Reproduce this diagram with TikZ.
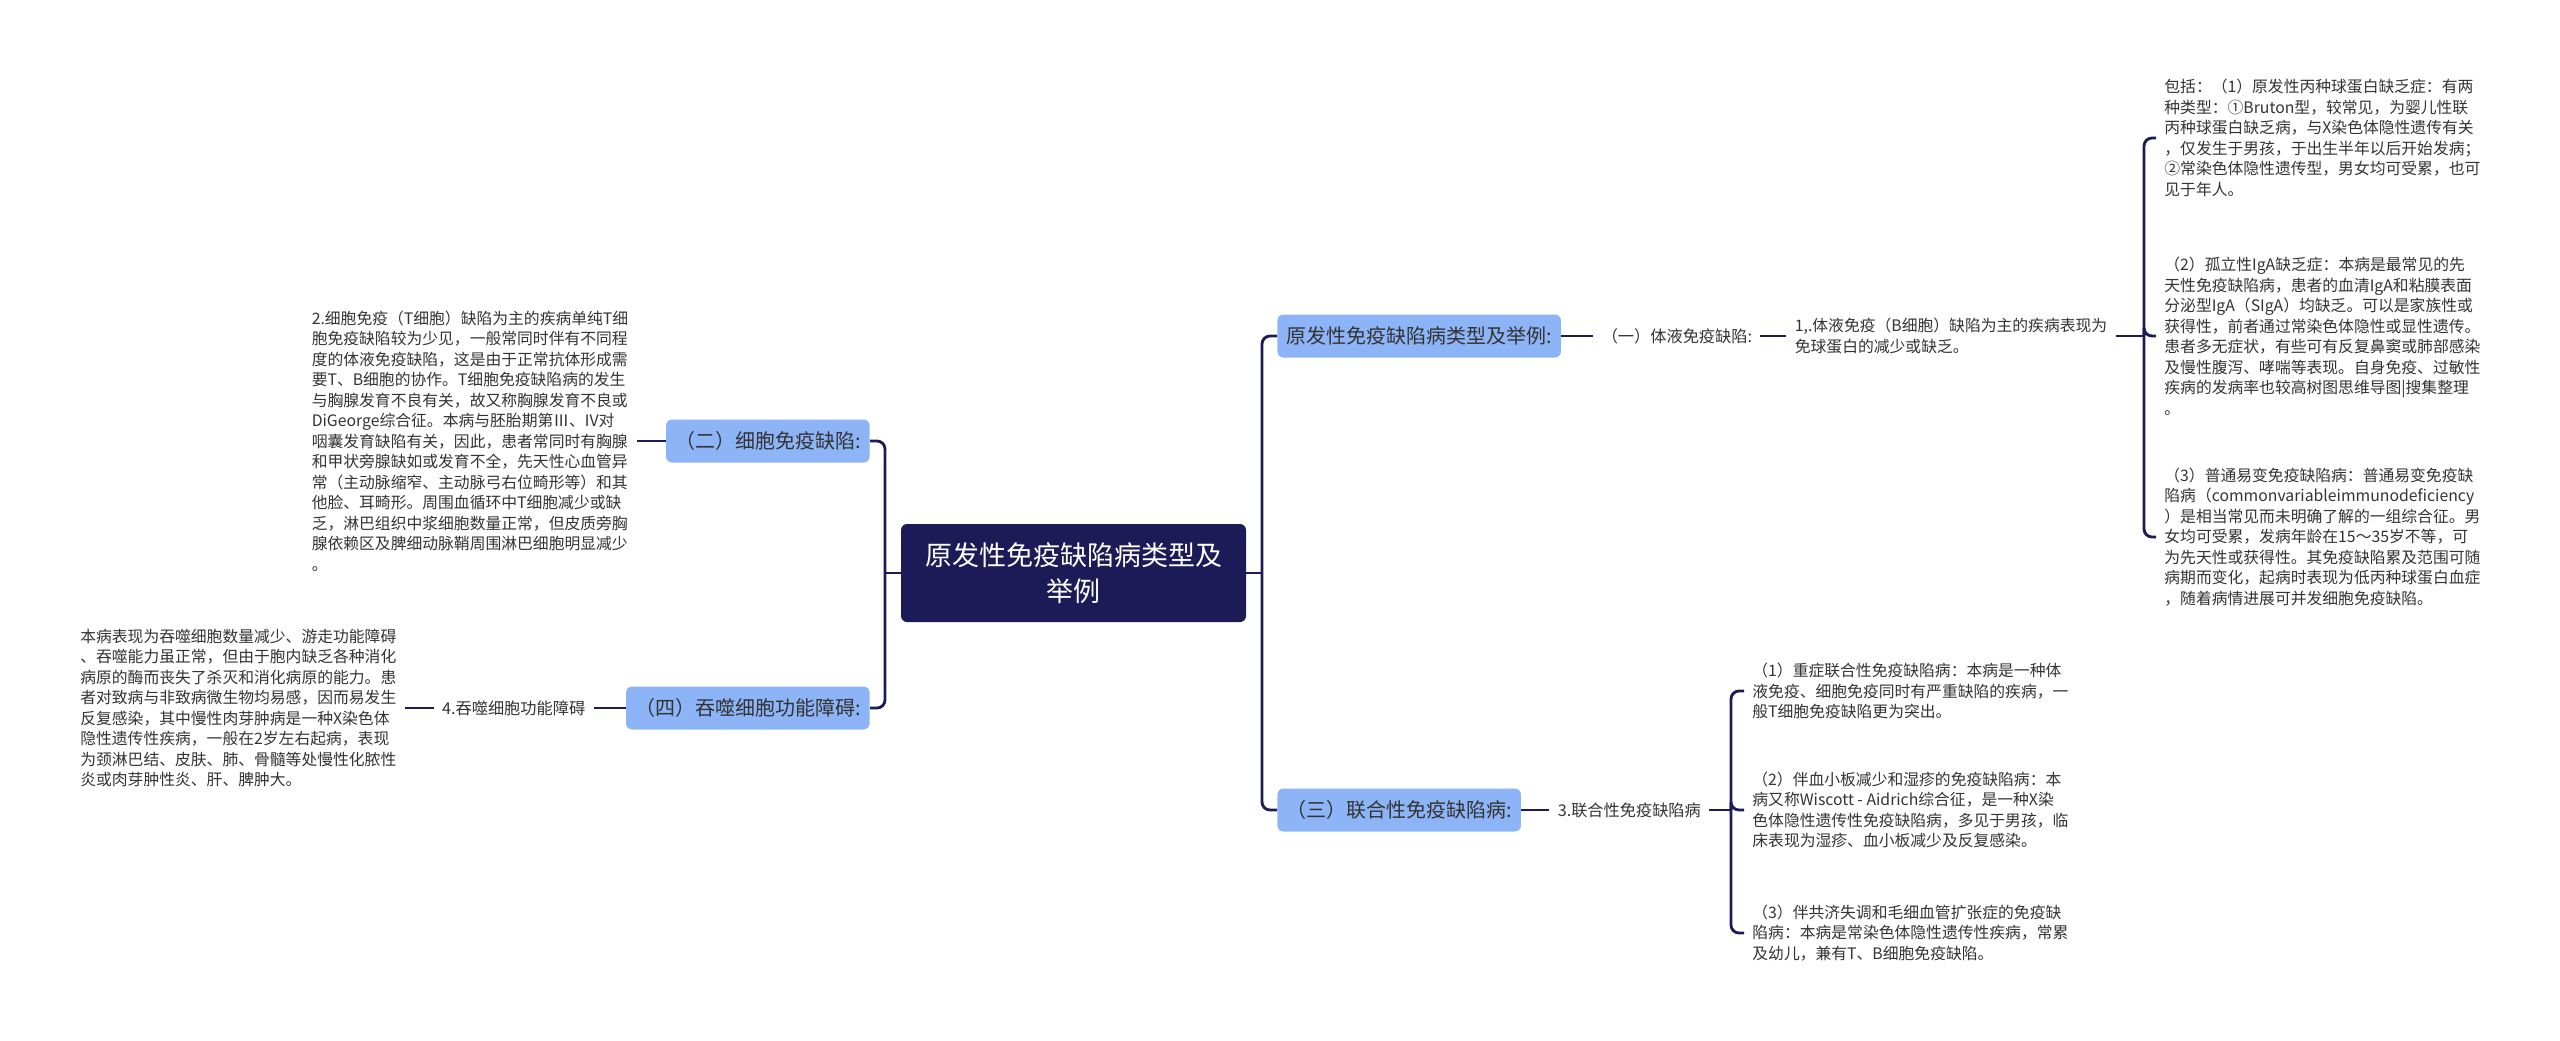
\documentclass[tikz,border=0pt]{standalone}
\usepackage{fontspec}
\setmainfont{Noto Sans CJK SC}
\usetikzlibrary{positioning}
\definecolor{navy}{HTML}{1C1B57}
\definecolor{skyb}{HTML}{8CB4F6}
\definecolor{txtg}{HTML}{333333}

\begin{document}
\begin{tikzpicture}[x=0.5pt, y=-0.5pt,
      cen/.style={fill=navy, text=white, rounded corners=3pt, minimum width=172.5pt,
                  minimum height=49pt, align=center, font=\fontsize{13.5}{18}\selectfont},
      br/.style={fill=skyb, text=txtg, rounded corners=3pt, minimum height=21.5pt,
                 inner xsep=4.5pt, font=\fontsize{10}{12}\selectfont},
      lb/.style={text=txtg, inner xsep=4pt, font=\fontsize{8.1}{10}\selectfont},
      tx/.style={text=txtg, inner xsep=4pt, align=left, font=\fontsize{7.9}{10.25}\selectfont},
      ln/.style={draw=navy, line width=1.4pt},
      rc/.style={ln, rounded corners=4pt}]

    \useasboundingbox (0,0) rectangle (2560,1040);

    % --- 中心主题 ---------------------------------------------------------
    \node[cen] (root) at (1073.5,573) {原发性免疫缺陷病类型及\\举例};
    \coordinate (jR) at (1262,573);
    \coordinate (jL) at (885,573);

    % --- 右侧：原发性免疫缺陷病类型及举例 -------------------------------
    \node[br, anchor=west] (b1) at (1277,336) {原发性免疫缺陷病类型及举例:};
    \node[lb, right=16pt of b1] (t1) {（一）体液免疫缺陷:};
    \node[tx, right=13pt of t1] (l1) {1,.体液免疫（B细胞）缺陷为主的疾病表现为\\
      免球蛋白的减少或缺乏。};
    \coordinate (jC) at (2144,336);

    \node[tx, anchor=west] (r1) at (2156,138) {包括：（1）原发性丙种球蛋白缺乏症：有两\\
      种类型：①Bruton型，较常见，为婴儿性联\\
      丙种球蛋白缺乏病，与X染色体隐性遗传有关\\
      ，仅发生于男孩，于出生半年以后开始发病；\\
      ②常染色体隐性遗传型，男女均可受累，也可\\
      见于年人。};
    \node[tx, anchor=west] (r2) at (2156,336) {（2）孤立性IgA缺乏症：本病是最常见的先\\
      天性免疫缺陷病，患者的血清IgA和粘膜表面\\
      分泌型IgA（SIgA）均缺乏。可以是家族性或\\
      获得性，前者通过常染色体隐性或显性遗传。\\
      患者多无症状，有些可有反复鼻窦或肺部感染\\
      及慢性腹泻、哮喘等表现。自身免疫、过敏性\\
      疾病的发病率也较高树图思维导图|搜集整理\\
      。};
    \node[tx, anchor=west] (r3) at (2156,537) {（3）普通易变免疫缺陷病：普通易变免疫缺\\
      陷病（commonvariableimmunodeficiency\\
      ）是相当常见而未明确了解的一组综合征。男\\
      女均可受累，发病年龄在15～35岁不等，可\\
      为先天性或获得性。其免疫缺陷累及范围可随\\
      病期而变化，起病时表现为低丙种球蛋白血症\\
      ，随着病情进展可并发细胞免疫缺陷。};

    % --- 右侧：联合性免疫缺陷病 -----------------------------------------
    \node[br, anchor=west] (b3) at (1277,810) {（三）联合性免疫缺陷病:};
    \node[lb, right=14pt of b3] (t3) {3.联合性免疫缺陷病};
    \coordinate (jB) at (1731,810);

    \node[tx, anchor=west] (s1) at (1744,691) {（1）重症联合性免疫缺陷病：本病是一种体\\
      液免疫、细胞免疫同时有严重缺陷的疾病，一\\
      般T细胞免疫缺陷更为突出。};
    \node[tx, anchor=west] (s2) at (1744,810) {（2）伴血小板减少和湿疹的免疫缺陷病：本\\
      病又称Wiscott - Aidrich综合征，是一种X染\\
      色体隐性遗传性免疫缺陷病，多见于男孩，临\\
      床表现为湿疹、血小板减少及反复感染。};
    \node[tx, anchor=west] (s3) at (1744,933) {（3）伴共济失调和毛细血管扩张症的免疫缺\\
      陷病：本病是常染色体隐性遗传性疾病，常累\\
      及幼儿，兼有T、B细胞免疫缺陷。};

    % --- 左侧：细胞免疫缺陷、吞噬细胞功能障碍 ---------------------------
    \node[br, anchor=east] (b2) at (870,441) {（二）细胞免疫缺陷:};
    \node[tx, left=14.5pt of b2] (l2) {2.细胞免疫（T细胞）缺陷为主的疾病单纯T细\\
      胞免疫缺陷较为少见，一般常同时伴有不同程\\
      度的体液免疫缺陷，这是由于正常抗体形成需\\
      要T、B细胞的协作。T细胞免疫缺陷病的发生\\
      与胸腺发育不良有关，故又称胸腺发育不良或\\
      DiGeorge综合征。本病与胚胎期第Ⅲ、IV对\\
      咽囊发育缺陷有关，因此，患者常同时有胸腺\\
      和甲状旁腺缺如或发育不全，先天性心血管异\\
      常（主动脉缩窄、主动脉弓右位畸形等）和其\\
      他脸、耳畸形。周围血循环中T细胞减少或缺\\
      乏，淋巴组织中浆细胞数量正常，但皮质旁胸\\
      腺依赖区及脾细动脉鞘周围淋巴细胞明显减少\\
      。};

    \node[br, anchor=east] (b4) at (870,708) {（四）吞噬细胞功能障碍:};
    \node[lb, left=16pt of b4] (t4) {4.吞噬细胞功能障碍};
    \node[tx, left=14.5pt of t4] (l4) {本病表现为吞噬细胞数量减少、游走功能障碍\\
      、吞噬能力虽正常，但由于胞内缺乏各种消化\\
      病原的酶而丧失了杀灭和消化病原的能力。患\\
      者对致病与非致病微生物均易感，因而易发生\\
      反复感染，其中慢性肉芽肿病是一种X染色体\\
      隐性遗传性疾病，一般在2岁左右起病，表现\\
      为颈淋巴结、皮肤、肺、骨髓等处慢性化脓性\\
      炎或肉芽肿性炎、肝、脾肿大。};

    % --- 连线 -------------------------------------------------------------
    \draw[ln] (root.east) -- (jR);
    \draw[rc] (jR) |- (b1.west);
    \draw[rc] (jR) |- (b3.west);
    \draw[ln] (root.west) -- (jL);
    \draw[rc] (jL) |- (b2.east);
    \draw[rc] (jL) |- (b4.east);

    \draw[ln] (b1) -- (t1);
    \draw[ln] (t1) -- (l1);
    \draw[ln] (l1.east) -- (jC);
    \foreach \n in {r1,r2,r3} \draw[rc] (jC) |- (\n.west);

    \draw[ln] (b3) -- (t3);
    \draw[ln] (t3.east) -- (jB);
    \foreach \n in {s1,s2,s3} \draw[rc] (jB) |- (\n.west);

    \draw[ln] (b2) -- (l2);
    \draw[ln] (b4) -- (t4);
    \draw[ln] (t4) -- (l4);
  \end{tikzpicture}
\end{document}
